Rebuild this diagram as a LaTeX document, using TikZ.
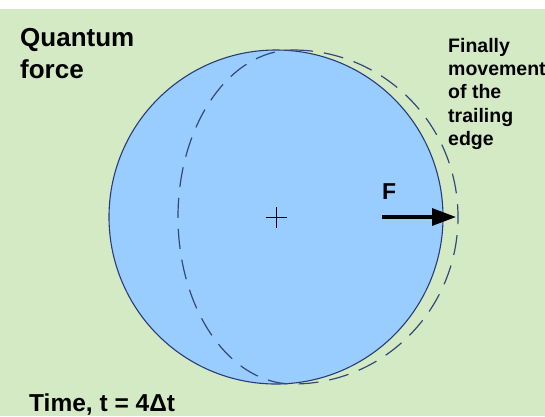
\documentclass[tikz,border=0pt]{standalone}
\usepackage{fontspec}
\setmainfont{Liberation Sans}
\usetikzlibrary{arrows.meta,positioning,calc}
\definecolor{qfGreen}{HTML}{D4EAC4}
\definecolor{qfBlue}{HTML}{99CCFF}
\definecolor{qfNavy}{HTML}{2A3C78}
\definecolor{qfDash}{HTML}{34497A}
\tikzset{
  ball/.style={circle,draw=qfNavy,line width=1.1pt,fill=qfBlue,minimum size=334pt,inner sep=0pt},
  trail/.style={draw=qfDash,line width=1.2pt,dash pattern=on 20pt off 11pt},
  label/.style={inner sep=0pt,align=left,font=\bfseries},
  force/.style={line width=3.2pt,-{Triangle[length=24pt,width=17pt]}}
}
\begin{document}
\begin{tikzpicture}[x=1pt,y=1pt]
  \useasboundingbox (0,0) rectangle (545,-416);
  \fill[white] (0,0) rectangle (545,-9);
  \fill[qfGreen] (0,-9) rectangle (545,-416);
  \node[ball] (ball) at (276,-217) {};
  % dashed outline of the moved sphere
  \coordinate (trailtop) at (293,-50);
  \draw[trail] (trailtop) arc[start angle=90,end angle=-90,x radius=165,y radius=167]
    arc[start angle=270,end angle=90,x radius=115,y radius=167];
  \draw[line width=0.9pt] ($(ball.center)+(-10.5,0)$) -- ($(ball.center)+(10.5,0)$)
    ($(ball.center)+(0,-10.5)$) -- ($(ball.center)+(0,10.5)$);
  \coordinate (fstart) at (382,-217);
  \coordinate (ftip) at (456,-217);
  \draw[force] (fstart) -- (ftip);
  \node[label,font=\bfseries\fontsize{23}{27}\selectfont,anchor=south west] (fname) at (382,-200) {F};
  \node[label,font=\bfseries\fontsize{26}{32}\selectfont,anchor=north west] (title) at (20,-28) {Quantum\\force};
  \node[label,font=\bfseries\fontsize{19.5}{23.3}\selectfont,anchor=north west] (note) at (448,-38) {Finally\\movement\\of the\\trailing\\edge};
  \node[label,font=\bfseries\fontsize{24.5}{30}\selectfont,anchor=base west] (time) at (29,-411.5) {Time, t = 4Δt};
\end{tikzpicture}
\end{document}
